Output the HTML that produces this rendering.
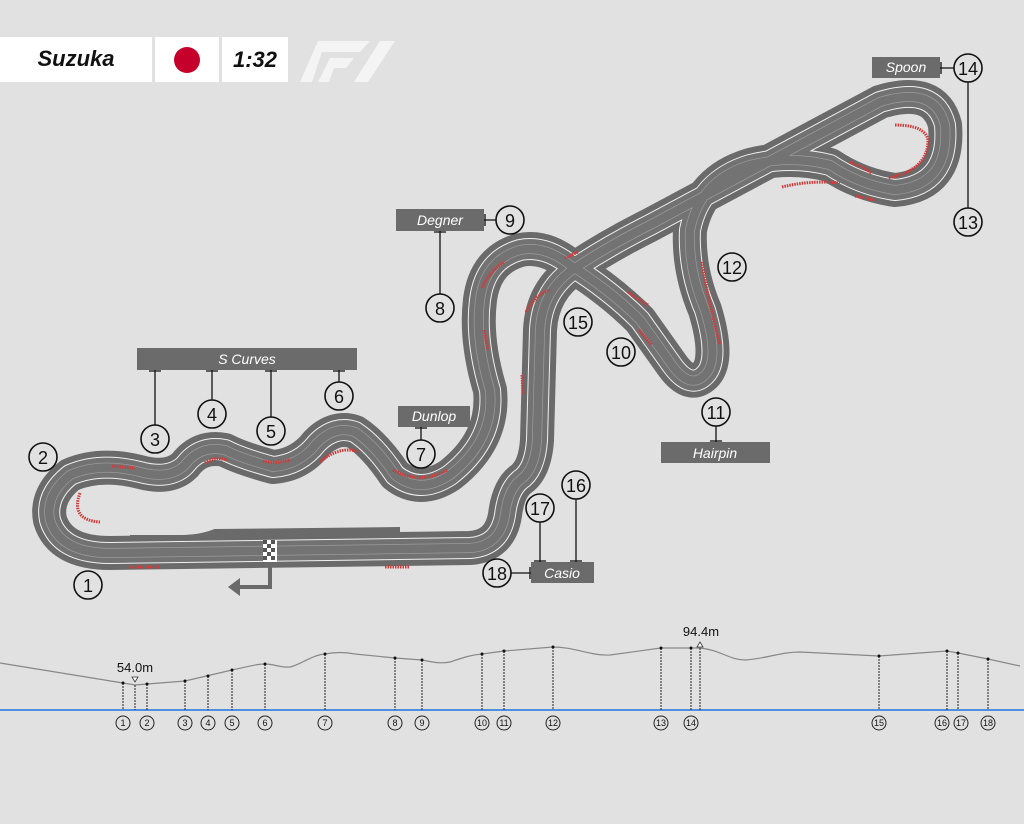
<!DOCTYPE html>
<html><head><meta charset="utf-8"><style>
html,body{margin:0;padding:0;background:#e1e1e1;}
svg{display:block}
</style></head><body>
<svg width="1024" height="824" viewBox="0 0 1024 824" xmlns="http://www.w3.org/2000/svg" font-family="Liberation Sans, sans-serif">
<defs>
<path id="trk" d="M 110 553 L 470 548 Q 500 546 505 515 Q 508 490 520 480 Q 535 470 537 440 L 540 330 Q 542 290 575 268 Q 610 245 650 225 L 880 102 Q 935 85 945 125 Q 950 185 895 190 Q 860 185 830 165 Q 790 155 750 165 Q 700 180 690 230 Q 688 270 705 310 Q 720 360 705 375 Q 690 390 672 365 L 640 320 Q 610 290 570 265 Q 545 245 520 250 Q 485 260 480 300 Q 475 340 490 390 Q 495 440 450 475 Q 420 495 395 475 Q 375 445 355 432 Q 335 425 317 443 Q 300 465 273 467 Q 240 458 225 450 Q 200 445 185 465 Q 170 480 140 472 Q 100 462 70 475 Q 45 495 50 520 Q 60 553 110 553 Z"/>
</defs>
<rect width="1024" height="824" fill="#e1e1e1"/>
<!-- header -->
<rect x="0" y="37" width="152" height="45" fill="#fff"/>
<rect x="155" y="37" width="64" height="45" fill="#fff"/>
<rect x="222" y="37" width="66" height="45" fill="#fff"/>
<text x="76" y="66" font-size="22" font-weight="bold" font-style="italic" text-anchor="middle" fill="#111">Suzuka</text>
<circle cx="187" cy="60" r="13" fill="#c4002b"/>
<text x="255" y="67" font-size="22" font-weight="bold" font-style="italic" text-anchor="middle" fill="#111">1:32</text>
<g fill="#f4f4f4">
<polygon points="318,41 370,41 360,52 322,52 312,82 300,82"/>
<polygon points="330,58 354,58 346,68 334,68 329,82 318,82"/>
<polygon points="380,41 395,41 368,82 354,82"/>
</g>
<!-- track -->
<g fill="none" stroke-linejoin="round" stroke-linecap="round">
<use href="#trk" stroke="#6a6a6a" stroke-width="34"/>
<use href="#trk" stroke="#f0f0f0" stroke-width="22"/>
<use href="#trk" stroke="#727272" stroke-width="20"/>
<use href="#trk" stroke="#9a9a9a" stroke-width="10"/>
<use href="#trk" stroke="#737373" stroke-width="8.5"/>
</g>
<!-- pit lane -->
<path d="M130 538 L180 538 Q200 538 215 532 L400 530" fill="none" stroke="#6a6a6a" stroke-width="6"/>
<!-- kerbs -->
<g fill="none" stroke="#d23a3a" stroke-width="3" stroke-dasharray="1.5 1">
<path d="M80 493 Q70 520 100 522"/>
<path d="M112 466 L135 468"/>
<path d="M130 567 L160 567"/>
<path d="M385 567 L410 567"/>
<path d="M205 463 Q215 456 227 460"/>
<path d="M263 461 Q275 464 290 460"/>
<path d="M320 462 Q340 445 360 452"/>
<path d="M393 470 Q420 485 447 470"/>
<path d="M484 330 L488 350"/>
<path d="M482 288 Q490 270 505 262"/>
<path d="M526 312 Q535 295 550 290"/>
<path d="M522 375 L523 395"/>
<path d="M565 258 L578 252"/>
<path d="M628 292 L648 305"/>
<path d="M639 330 L652 345"/>
<path d="M702 262 Q708 300 720 345"/>
<path d="M782 187 Q810 180 840 183"/>
<path d="M850 162 Q860 166 872 173"/>
<path d="M855 196 L875 200"/>
<path d="M895 125 Q925 125 928 140 Q928 170 888 178"/>
</g>
<!-- checkered -->
<rect x="263" y="540" width="14" height="22" fill="#fff"/>
<g fill="#555"><rect x="263" y="540" width="4" height="4"/><rect x="271" y="540" width="4" height="4"/><rect x="267" y="544" width="4" height="4"/><rect x="263" y="548" width="4" height="4"/><rect x="271" y="548" width="4" height="4"/><rect x="267" y="552" width="4" height="4"/><rect x="263" y="556" width="4" height="4"/><rect x="271" y="556" width="4" height="4"/></g>
<path d="M270 562 L270 587 L238 587" fill="none" stroke="#6a6a6a" stroke-width="4"/>
<polygon points="228,587 240,578 240,596" fill="#6a6a6a"/>
<!-- label boxes -->
<g fill="#6b6b6b">
<rect x="137" y="348" width="220" height="22"/>
<rect x="396" y="209" width="88" height="22"/>
<rect x="398" y="406" width="72" height="21"/>
<rect x="661" y="442" width="109" height="21"/>
<rect x="872" y="57" width="68" height="21"/>
<rect x="531" y="562" width="63" height="21"/>
</g>
<g fill="#fff" font-size="14" font-style="italic" text-anchor="middle">
<text x="247" y="364">S Curves</text>
<text x="440" y="225">Degner</text>
<text x="434" y="421">Dunlop</text>
<text x="715" y="458">Hairpin</text>
<text x="906" y="72">Spoon</text>
<text x="562" y="578">Casio</text>
</g>
<!-- connectors -->
<g stroke="#111" stroke-width="1.3" fill="none">
<path d="M155 370V426M149 371H161M212 370V400M206 371H218M271 370V418M265 371H277M339 370V383M333 371H345"/>
<path d="M440 231V295M434 232H446M484 220H497M485 214V226"/>
<path d="M421 427V441M415 428H427M716 425V442M710 441H722"/>
<path d="M940 68H955M941 62V74M968 81V209"/>
<path d="M576 498V562M570 561H582M540 521V562M534 561H546M510 573H531M530 567V579"/>
</g>
<g stroke="#111" stroke-width="1.6" fill="#e1e1e1">
<circle cx="88" cy="585" r="14"/><circle cx="43" cy="457" r="14"/><circle cx="155" cy="439" r="14"/>
<circle cx="212" cy="414" r="14"/><circle cx="271" cy="431" r="14"/><circle cx="339" cy="396" r="14"/>
<circle cx="421" cy="454" r="14"/><circle cx="440" cy="308" r="14"/><circle cx="510" cy="220" r="14"/>
<circle cx="621" cy="352" r="14"/><circle cx="716" cy="412" r="14"/><circle cx="732" cy="267" r="14"/>
<circle cx="968" cy="222" r="14"/><circle cx="968" cy="68" r="14"/><circle cx="578" cy="322" r="14"/>
<circle cx="576" cy="485" r="14"/><circle cx="540" cy="508" r="14"/><circle cx="497" cy="573" r="14"/>
</g>
<g font-size="18" text-anchor="middle" fill="#111">
<text x="88" y="592">1</text><text x="43" y="464">2</text><text x="155" y="446">3</text>
<text x="212" y="421">4</text><text x="271" y="438">5</text><text x="339" y="403">6</text>
<text x="421" y="461">7</text><text x="440" y="315">8</text><text x="510" y="227">9</text>
<text x="621" y="359">10</text><text x="716" y="419">11</text><text x="732" y="274">12</text>
<text x="968" y="229">13</text><text x="968" y="75">14</text><text x="578" y="329">15</text>
<text x="576" y="492">16</text><text x="540" y="515">17</text><text x="497" y="580">18</text>
</g>
<!-- elevation -->
<path d="M0 663 L123 683 L135 685 L147 684 L185 681 L232 670 C250 666 258 664 265 664 C275 664 280 668 290 667 C300 665 312 655 325 654 C335 652 345 652 355 654 L395 658 L422 660 C432 662 440 664 450 662 C462 658 470 655 482 654 L504 651 L553 647 C575 647 590 656 610 655 L661 648 L700 648 C720 650 730 660 745 660 C765 659 780 652 800 652 L879 656 L947 651 L958 653 L988 659 L1020 666" fill="none" stroke="#888" stroke-width="1.2"/>
<line x1="0" y1="710" x2="1024" y2="710" stroke="#4d8fe0" stroke-width="2"/>
<g stroke="#222" stroke-width="1" stroke-dasharray="2 1">
<path d="M123 683V710M147 684V710M185 681V710M208 676V710M232 670V710M265 664V710M325 654V710M395 658V710M422 660V710M482 654V710M504 651V710M553 647V710M661 648V710M691 648V710M879 656V710M947 651V710M958 653V710M988 659V710M135 685V710M700 648V710"/>
</g>
<g fill="#111">
<circle cx="123" cy="683" r="1.5"/><circle cx="147" cy="684" r="1.5"/><circle cx="185" cy="681" r="1.5"/><circle cx="208" cy="676" r="1.5"/><circle cx="232" cy="670" r="1.5"/><circle cx="265" cy="664" r="1.5"/><circle cx="325" cy="654" r="1.5"/><circle cx="395" cy="658" r="1.5"/><circle cx="422" cy="660" r="1.5"/><circle cx="482" cy="654" r="1.5"/><circle cx="504" cy="651" r="1.5"/><circle cx="553" cy="647" r="1.5"/><circle cx="661" cy="648" r="1.5"/><circle cx="691" cy="648" r="1.5"/><circle cx="879" cy="656" r="1.5"/><circle cx="947" cy="651" r="1.5"/><circle cx="958" cy="653" r="1.5"/><circle cx="988" cy="659" r="1.5"/>
</g>
<polygon points="132,677 138,677 135,682" fill="#fff" stroke="#333" stroke-width="0.8"/>
<polygon points="697,647 703,647 700,642" fill="#fff" stroke="#333" stroke-width="0.8"/>
<text x="135" y="672" font-size="13" text-anchor="middle" fill="#111">54.0m</text>
<text x="701" y="636" font-size="13" text-anchor="middle" fill="#111">94.4m</text>
<g stroke="#222" stroke-width="1" fill="#e1e1e1">
<circle cx="123" cy="723" r="7"/><circle cx="147" cy="723" r="7"/><circle cx="185" cy="723" r="7"/><circle cx="208" cy="723" r="7"/><circle cx="232" cy="723" r="7"/><circle cx="265" cy="723" r="7"/><circle cx="325" cy="723" r="7"/><circle cx="395" cy="723" r="7"/><circle cx="422" cy="723" r="7"/><circle cx="482" cy="723" r="7"/><circle cx="504" cy="723" r="7"/><circle cx="553" cy="723" r="7"/><circle cx="661" cy="723" r="7"/><circle cx="691" cy="723" r="7"/><circle cx="879" cy="723" r="7"/><circle cx="942" cy="723" r="7"/><circle cx="961" cy="723" r="7"/><circle cx="988" cy="723" r="7"/>
</g>
<g font-size="9" text-anchor="middle" fill="#111">
<text x="123" y="726">1</text><text x="147" y="726">2</text><text x="185" y="726">3</text><text x="208" y="726">4</text><text x="232" y="726">5</text><text x="265" y="726">6</text><text x="325" y="726">7</text><text x="395" y="726">8</text><text x="422" y="726">9</text><text x="482" y="726">10</text><text x="504" y="726">11</text><text x="553" y="726">12</text><text x="661" y="726">13</text><text x="691" y="726">14</text><text x="879" y="726">15</text><text x="942" y="726">16</text><text x="961" y="726">17</text><text x="988" y="726">18</text>
</g>
</svg>
</body></html>
